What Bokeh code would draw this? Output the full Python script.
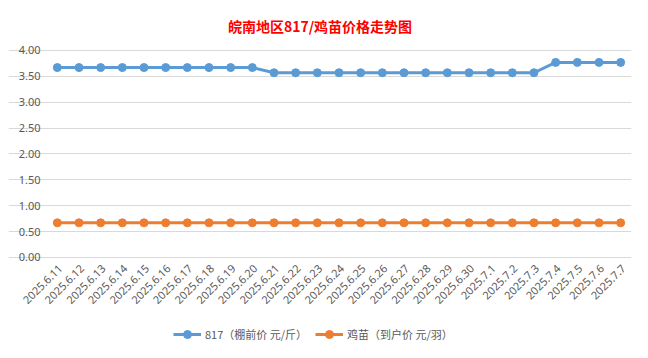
from bokeh.plotting import figure
from bokeh.models import Range1d, Legend, LegendItem, FixedTicker, Title
from bokeh.core.properties import value
from bokeh.embed import file_html
from bokeh.resources import INLINE
import math

dates = ["2025.6.11", "2025.6.12", "2025.6.13", "2025.6.14", "2025.6.15", "2025.6.16",
         "2025.6.17", "2025.6.18", "2025.6.19", "2025.6.20", "2025.6.21", "2025.6.22",
         "2025.6.23", "2025.6.24", "2025.6.25", "2025.6.26", "2025.6.27", "2025.6.28",
         "2025.6.29", "2025.6.30", "2025.7.1", "2025.7.2", "2025.7.3", "2025.7.4",
         "2025.7.5", "2025.7.6", "2025.7.7"]
price_817 = [3.67] * 10 + [3.57] * 13 + [3.77] * 4
price_chick = [0.67] * 27
y_ticks = [0, 0.5, 1.0, 1.5, 2.0, 2.5, 3.0, 3.5, 4.0]

BLUE = "#5B9BD5"
ORANGE = "#ED7D31"
GREY = "#595959"

pos = list(range(len(dates)))            # category slots
y_labels = [f"{v:.2f}" for v in y_ticks]

# the frame reaches left, up and down so the slanted date labels, tick labels and legend all fit inside it
p = figure(frame_width=623, frame_height=309,
           x_range=Range1d(-2.254, len(dates) - 0.5), y_range=Range1d(-1.778, 4.193),
           output_backend="svg", toolbar_location=None, title_location=None,
           min_border_left=8, min_border_right=9, min_border_top=40, min_border_bottom=0)

p.add_layout(Title(text="皖南地区817/鸡苗价格走势图", align="center", text_color="#FF0000",
                   text_font="Noto Sans CJK SC", text_font_size="14px", text_font_style="bold"), "above")

l1 = p.line(pos, price_817, line_color=BLUE, line_width=3)
s1 = p.scatter(pos, price_817, marker="circle", size=8, fill_color=BLUE, line_color=BLUE)
l2 = p.line(pos, price_chick, line_color=ORANGE, line_width=3)
s2 = p.scatter(pos, price_chick, marker="circle", size=8, fill_color=ORANGE, line_color=ORANGE)

# category labels, slanted 45 degrees, ending just below each category
p.text(x=pos, y=0, text=dates, angle=math.pi / 4, x_offset=3, y_offset=9,
       text_align="right", text_baseline="middle", text_font_size="11px",
       text_color=GREY, text_font=value("Noto Sans"))

# value labels at the left of the plot area
p.text(x=-0.5, y=y_ticks, text=y_labels, x_offset=-6,
       text_align="right", text_baseline="middle", text_font_size="11px",
       text_color=GREY, text_font=value("Noto Sans"))

p.xaxis.visible = False
p.yaxis.visible = False
p.xgrid.grid_line_color = None
p.ygrid.ticker = FixedTicker(ticks=y_ticks)
p.ygrid.grid_line_color = "#D9D9D9"
p.ygrid.bounds = (-0.5, len(dates) - 0.5)
p.outline_line_color = None

legend = Legend(items=[
    LegendItem(label="817（棚前价 元/斤）", renderers=[l1, s1]),
    LegendItem(label="鸡苗（到户价 元/羽）", renderers=[l2, s2]),
], orientation="horizontal", location=(165, 5))
legend.label_text_font = "Noto Sans CJK SC"
legend.label_text_font_size = "11px"
legend.label_text_color = GREY
legend.border_line_color = None
legend.background_fill_alpha = 0
legend.glyph_width = 28
legend.label_standoff = 4
legend.spacing = 8
legend.padding = 2
legend.margin = 0
p.add_layout(legend, "center")

open("out.html", "w").write(file_html(p, INLINE))
